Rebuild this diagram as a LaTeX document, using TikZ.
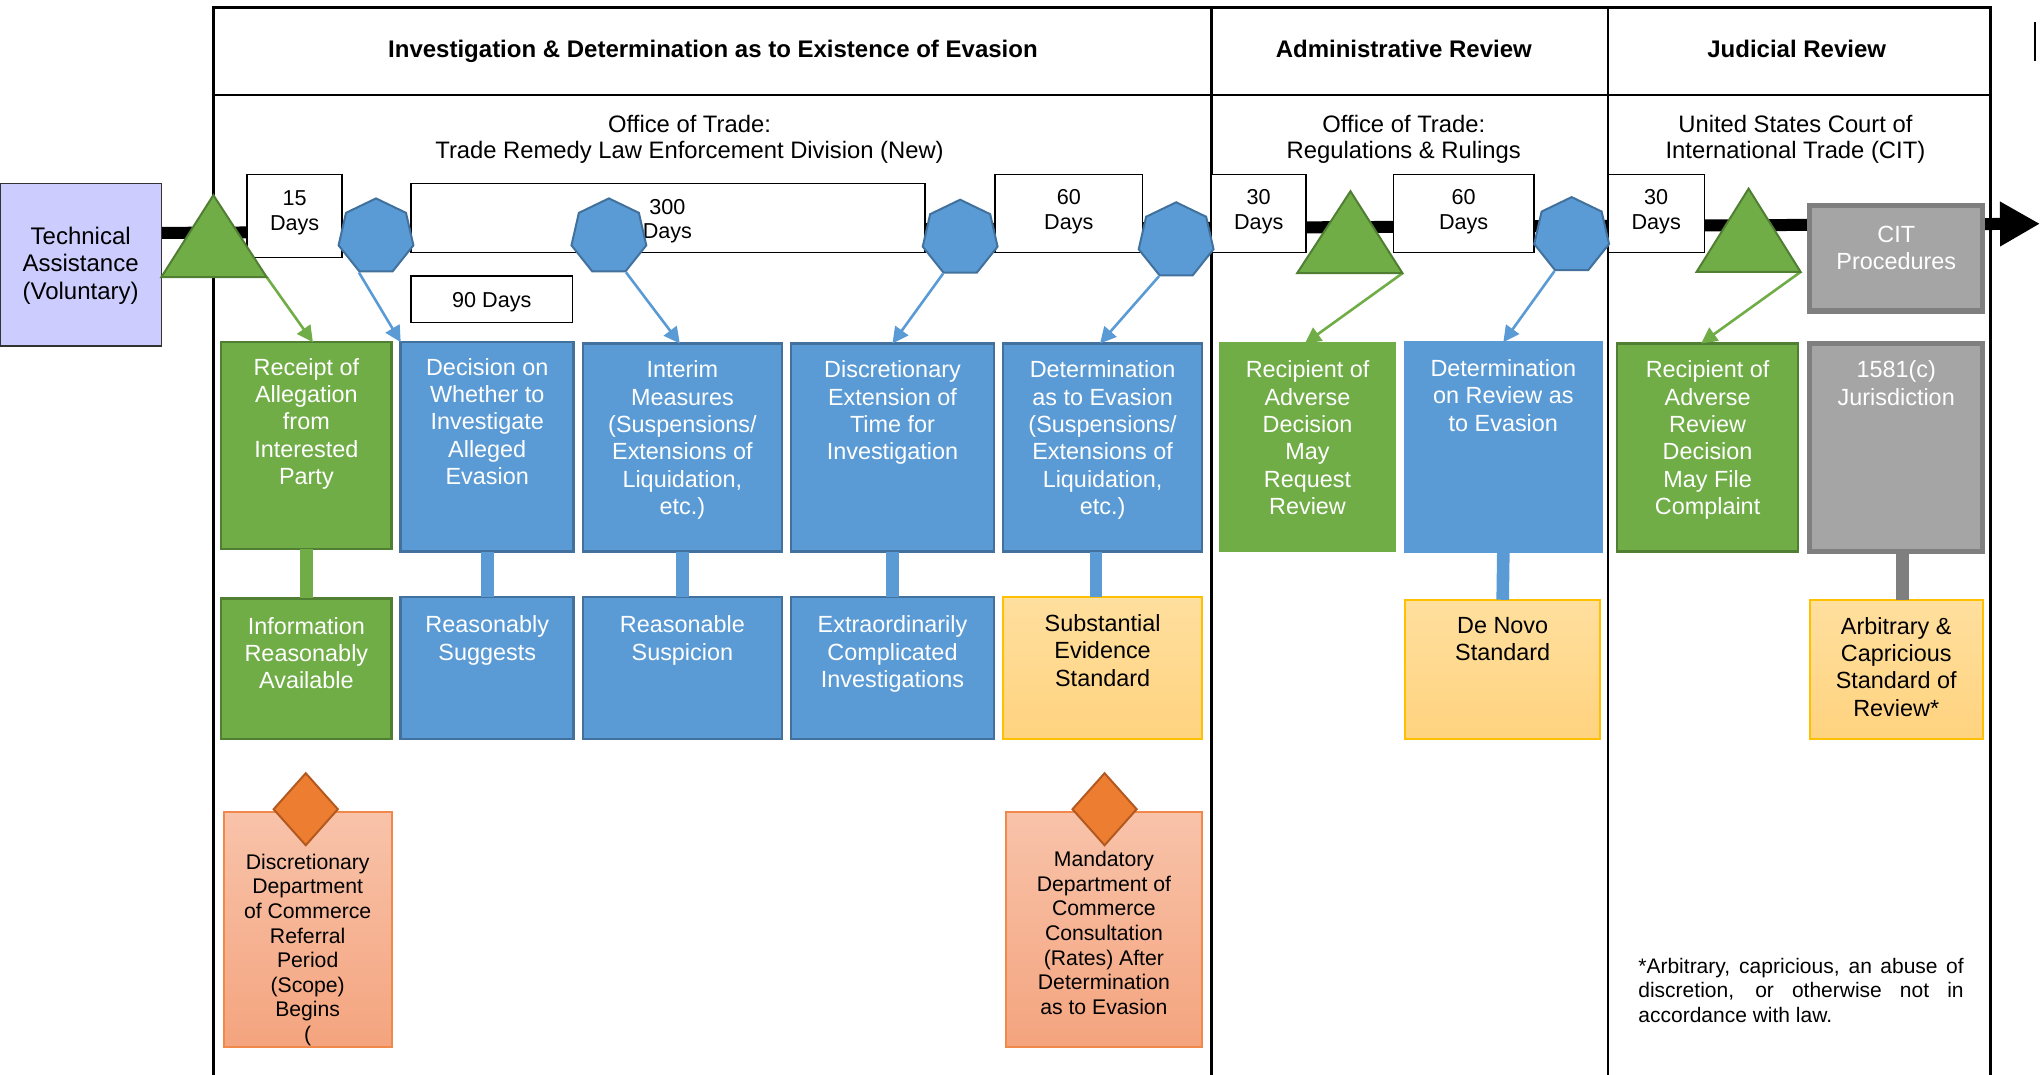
\documentclass[tikz,border=0pt]{standalone}
\usepackage{fontspec}
\setmainfont{Liberation Sans}
\usetikzlibrary{shapes.geometric,fit,arrows.meta,calc}
\definecolor{gfill}{HTML}{70AD47}
\definecolor{gline}{HTML}{507E32}
\definecolor{bfill}{HTML}{5B9BD5}
\definecolor{bline}{HTML}{41719C}
\definecolor{grfill}{HTML}{A5A5A5}
\definecolor{grline}{HTML}{7F7F7F}
\definecolor{ytop}{HTML}{FFDF9E}
\definecolor{ybot}{HTML}{FFD37F}
\definecolor{yline}{HTML}{FFC000}
\definecolor{otop}{HTML}{F8C3AA}
\definecolor{obot}{HTML}{F4A47E}
\definecolor{oline}{HTML}{F0894A}
\definecolor{dfill}{HTML}{ED7D31}
\definecolor{dline}{HTML}{B3591F}
\definecolor{lav}{HTML}{CCCCFF}
\def\PX{0.6505pt}
\begin{document}
\begin{tikzpicture}[x=0.6505pt,y=-0.6505pt,
  bx/.style={inner sep=0pt, outer sep=0pt, line width=1.3pt},
  gbox/.style={bx, fill=gfill, draw=gline},
  gboxn/.style={bx, fill=gfill, draw=gfill},
  bbox/.style={bx, fill=bfill, draw=bline},
  bboxn/.style={bx, fill=bfill, draw=bfill},
  ybox/.style={bx, top color=ytop, bottom color=ybot, draw=yline, line width=1pt},
  obox/.style={bx, top color=otop, bottom color=obot, draw=oline, line width=1pt},
  gybox/.style={bx, fill=grfill, draw=grline, line width=2.6pt},
  wtxt/.style={text=white, align=center, inner sep=0pt, anchor=north, font=\fontsize{11.7}{13.7}\selectfont},
  ktxt/.style={wtxt, text=black},
  otxt/.style={ktxt, font=\fontsize{10.6}{12.3}\selectfont},
  daybox/.style={draw=black, fill=white, line width=0.8pt, inner sep=0pt},
  daytxt/.style={align=center, inner sep=0pt, font=\fontsize{10.8}{12.4}\selectfont},
  hept/.style={regular polygon, regular polygon sides=7, minimum size=59*\PX, inner sep=0pt, fill=bfill, draw=bline, line width=1pt},
  tri/.style={fill=gfill, draw=gline, line width=1pt},
  dia/.style={diamond, minimum width=50*\PX, minimum height=56*\PX, inner sep=0pt, fill=dfill, draw=dline, line width=1pt},
  barrow/.style={draw=bfill, line width=1.3pt, -{Triangle[length=8pt,width=8pt]}},
  garrow/.style={barrow, draw=gfill},
  stem/.style={line width=6.3pt},
  framel/.style={line width=1.4pt},
  hdr/.style={font=\bfseries\fontsize{12}{14}\selectfont, inner sep=0pt, anchor=base},
  subhdr/.style={align=center, inner sep=0pt, font=\fontsize{11.9}{13.3}\selectfont}
]
\useasboundingbox (0,0) rectangle (1568,826);

% frame
\draw[framel] (164,830) -- (164,6) -- (1530,6) -- (1530,830);
\draw[framel] (164,73) -- (1530,73);
\draw[framel] (931,6) -- (931,830);
\draw[framel] (1236,6) -- (1236,830);
\draw[line width=1.3pt] (1564,17) -- (1564,47);

% headers
\node[hdr] (h1t) at (548,44.5) {Investigation \& Determination as to Existence of Evasion};
\node[hdr] (h2t) at (1079,44.5) {Administrative Review};
\node[hdr] (h3t) at (1381,44.5) {Judicial Review};
\node[subhdr] (s1) at (530,107) {Office of Trade:\\Trade Remedy Law Enforcement Division (New)};
\node[subhdr] (s2) at (1079,107) {Office of Trade:\\Regulations \& Rulings};
\node[subhdr] (s3) at (1380,107) {United States Court of\\International Trade (CIT)};

% timeline
\coordinate (tl0) at (124,179);
\coordinate (tl1) at (1568,172);
\draw[line width=6pt, -{Triangle[length=20pt,width=21pt]}] (tl0) -- (tl1);

% technical assistance
\node[bx, fill=lav, draw=black!80, line width=0.8pt, fit={(0,141) (124,266)}] (ta) {};
\node[daytxt, font=\fontsize{12}{13.7}\selectfont] at (62,204) {Technical\\Assistance\\(Voluntary)};

% day boxes
\node[daybox, fit={(190,134) (263,198)}] (d15) {};
\node[daytxt] at ([yshift=2.5*\PX]d15.center) {15\\Days};
\node[daybox, fit={(316,141) (711,194)}] (d300) {};
\node[daytxt] at (513,170) {300\\Days};
\node[daybox, fit={(316,212) (440,248)}] (d90) {};
\node[daytxt] at ([yshift=-2*\PX]d90.center) {90 Days};
\node[daybox, fit={(765,134) (878,194)}] (d60a) {};
\node[daytxt] at ([yshift=1*\PX]d60a.center) {60\\Days};
\node[daybox, fit={(931,134) (1004,194)}] (d30a) {};
\node[daytxt] at ([yshift=1*\PX]d30a.center) {30\\Days};
\node[daybox, fit={(1071,134) (1179,194)}] (d60b) {};
\node[daytxt] at ([yshift=1*\PX]d60b.center) {60\\Days};
\node[daybox, fit={(1236,134) (1310,194)}] (d30b) {};
\node[daytxt] at ([yshift=1*\PX]d30b.center) {30\\Days};

% CIT procedures
\node[gybox, fit={(1391,158) (1524,239)}] (cit) {};
\node[wtxt] at ([yshift=-15.5*\PX]cit.north) {CIT\\Procedures};

% main boxes
\node[gbox, fit={(170,263) (301,422)}] (rec) {};
\node[wtxt] at ([yshift=-12*\PX]rec.north) {Receipt of\\Allegation\\from\\Interested\\Party};
\node[bbox, fit={(308,263) (441,424)}] (dec) {};
\node[wtxt] at ([yshift=-12*\PX]dec.north) {Decision on\\Whether to\\Investigate\\Alleged\\Evasion};
\node[bbox, fit={(448,264) (601,424)}] (int) {};
\node[wtxt] at ([yshift=-13*\PX]int.north) {Interim\\Measures\\(Suspensions/\\Extensions of\\Liquidation,\\etc.)};
\node[bbox, fit={(608,264) (764,424)}] (disc) {};
\node[wtxt] at ([yshift=-13*\PX]disc.north) {Discretionary\\Extension of\\Time for\\Investigation};
\node[bbox, fit={(771,264) (924,424)}] (det) {};
\node[wtxt] at ([yshift=-13*\PX]det.north) {Determination\\as to Evasion\\(Suspensions/\\Extensions of\\Liquidation,\\etc.)};
\node[gboxn, fit={(938,264) (1072,423)}] (rad) {};
\node[wtxt] at ([yshift=-13*\PX]rad.north) {Recipient of\\Adverse\\Decision\\May\\Request\\Review};
\node[bboxn, fit={(1080,263) (1231,424)}] (dor) {};
\node[wtxt] at ([yshift=-13*\PX]dor.north) {Determination\\on Review as\\to Evasion};
\node[gbox, fit={(1243,264) (1382,424)}] (raf) {};
\node[wtxt] at ([yshift=-13*\PX]raf.north) {Recipient of\\Adverse\\Review\\Decision\\May File\\Complaint};
\node[gybox, fit={(1391,264) (1524,424)}] (jur) {};
\node[wtxt] at ([yshift=-13*\PX]jur.north) {1581(c)\\Jurisdiction};

% lower boxes
\node[gbox, fit={(170,460) (301,568)}] (ira) {};
\node[wtxt] at ([yshift=-14*\PX]ira.north) {Information\\Reasonably\\Available};
\node[bbox, fit={(308,459) (441,568)}] (rsg) {};
\node[wtxt] at ([yshift=-14*\PX]rsg.north) {Reasonably\\Suggests};
\node[bbox, fit={(448,459) (601,568)}] (rsp) {};
\node[wtxt] at ([yshift=-14*\PX]rsp.north) {Reasonable\\Suspicion};
\node[bbox, fit={(608,459) (764,568)}] (eci) {};
\node[wtxt] at ([yshift=-14*\PX]eci.north) {Extraordinarily\\Complicated\\Investigations};
\node[ybox, fit={(771,459) (924,568)}] (ses) {};
\node[ktxt] at ([yshift=-13*\PX]ses.north) {Substantial\\Evidence\\Standard};
\node[ybox, fit={(1080,461) (1230,568)}] (dns) {};
\node[ktxt] at ([yshift=-13*\PX]dns.north) {De Novo\\Standard};
\node[ybox, fit={(1391,461) (1524,568)}] (acs) {};
\node[ktxt] at ([yshift=-13*\PX]acs.north) {Arbitrary \&\\Capricious\\Standard of\\Review*};

% stems
\draw[stem, gfill] (rec.south) -- (ira.north);
\draw[stem, bfill] (dec.south) -- (rsg.north);
\draw[stem, bfill] (int.south) -- (rsp.north);
\draw[stem, bfill] (disc.south) -- (eci.north);
\draw[stem, bfill] ([xshift=-5*\PX]det.south) -- ([xshift=-5*\PX]ses.north);
\draw[stem, bfill] (dor.south) -- (dns.north);
\draw[stem, grline] ([xshift=5*\PX]jur.south) -- ([xshift=5*\PX]acs.north);

% orange boxes
\node[obox, fit={(172,624) (301,805)}] (ob1) {};
\node[otxt] at ([yshift=-32*\PX]ob1.north) {Discretionary\\Department\\of Commerce\\Referral\\Period\\(Scope)\\Begins\\(};
\node[dia] (dm1) at (235,622) {};
\node[obox, fit={(773,624) (924,805)}] (ob2) {};
\node[otxt] at ([yshift=-30*\PX]ob2.north) {Mandatory\\Department of\\Commerce\\Consultation\\(Rates) After\\Determination\\as to Evasion};
\node[dia] (dm2) at (849,622) {};

% triangles and heptagons positions
\coordinate (t1a) at (164,150); \coordinate (t1l) at (124,213); \coordinate (t1r) at (205,213);
\coordinate (t2a) at (1038,147); \coordinate (t2l) at (997,210); \coordinate (t2r) at (1078,210);
\coordinate (t3a) at (1344,145); \coordinate (t3l) at (1304,209); \coordinate (t3r) at (1384,209);
\node[hept] (hp1) at (289,182) {};
\node[hept] (hp2) at (468,182) {};
\node[hept] (hp3) at (738,183) {};
\node[hept] (hp4) at (904,185) {};
\node[hept] (hp5) at (1208,181) {};

% arrows
\draw[garrow] (t1r) -- ([xshift=5*\PX]rec.north);
\draw[barrow] (hp1.corner 4) -- (dec.north west);
\draw[barrow] (hp2.corner 5) -- ([xshift=-2*\PX]int.north);
\draw[barrow] (hp3.corner 4) -- (disc.north);
\draw[barrow] (hp4.corner 4) -- ([xshift=-2*\PX]det.north);
\draw[garrow] (t2r) -- ([xshift=-2*\PX]rad.north);
\draw[barrow] (hp5.corner 4) -- (dor.north);
\draw[garrow] (t3r) -- ([xshift=-5*\PX]raf.north);

\draw[tri] (t1a) -- (t1l) -- (t1r) -- cycle;
\draw[tri] (t2a) -- (t2l) -- (t2r) -- cycle;
\draw[tri] (t3a) -- (t3l) -- (t3r) -- cycle;

% footnote
\node[anchor=north west, inner sep=0pt, text width=250*\PX, align=justify,
  font=\fontsize{10.5}{12.4}\selectfont] (fn) at (1259,736)
  {\hyphenpenalty=10000 *Arbitrary, capricious, an abuse of\linebreak discretion, or otherwise not in\linebreak accordance with law.};
\end{tikzpicture}
\end{document}
